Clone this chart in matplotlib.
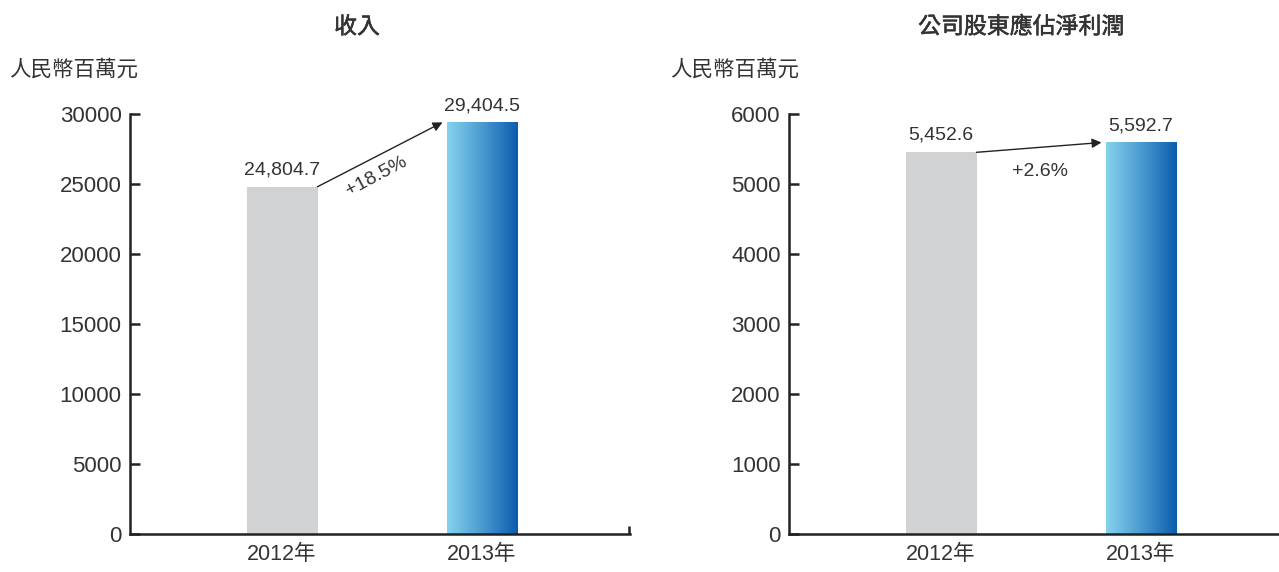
import numpy as np
import matplotlib
matplotlib.use("Agg")
import matplotlib.pyplot as plt
import matplotlib.patheffects as pe

plt.rcParams['font.family'] = ['Liberation Sans', 'Noto Sans CJK TC']

# --- Données ---
annees = ['2012年', '2013年']
revenu = [24804.7, 29404.5]
benefice = [5452.6, 5592.7]
revenu_labels = ['24,804.7', '29,404.5']
benefice_labels = ['5,452.6', '5,592.7']
titres = ['收入', '公司股東應佔淨利潤']
unite = '人民幣百萬元'
croissance = ['+18.5%', '+2.6%']
yticks_revenu = [0, 5000, 10000, 15000, 20000, 25000, 30000]
yticks_benefice = [0, 1000, 2000, 3000, 4000, 5000, 6000]

GRIS = '#d1d2d4'
TEXTE = '#333333'
LARG = 0.355
XLIM = (-0.76, 1.74)

grad_cmap = matplotlib.colors.LinearSegmentedColormap.from_list(
    'bleu', ['#86d3ee', '#4a9ad0', '#0b5cad'])


def panneau(ax, valeurs, labels, yticks, titre, pct, ymax, pct_rot, pct_off):
    x = np.arange(len(valeurs))
    ax.bar(x[0], valeurs[0], width=LARG, color=GRIS, zorder=2)
    # barre en dégradé
    grad = np.linspace(0, 1, 256).reshape(1, -1)
    ax.imshow(grad, cmap=grad_cmap, aspect='auto', zorder=2,
              extent=[x[1] - LARG / 2, x[1] + LARG / 2, 0, valeurs[1]])
    ax.set_xlim(*XLIM)
    ax.set_ylim(0, ymax)

    for xi, v, lab in zip(x, valeurs, labels):
        ax.annotate(lab, (xi, v), xytext=(0, 6), textcoords='offset points',
                    ha='center', va='bottom', fontsize=14, color=TEXTE)

    # flèche de croissance
    ax.annotate('', xy=(x[1] - LARG / 2 - 0.02, valeurs[1]),
                xytext=(x[0] + LARG / 2, valeurs[0]),
                arrowprops=dict(arrowstyle='-|>', color='#222222', lw=1,
                                mutation_scale=14, shrinkA=0, shrinkB=0))
    xm = (x[0] + x[1]) / 2
    ym = (valeurs[0] + valeurs[1]) / 2
    ax.annotate(pct, (xm, ym), xytext=pct_off, textcoords='offset points',
                ha='center', va='center', fontsize=14, color=TEXTE,
                rotation=pct_rot)

    ax.set_xticks(x)
    ax.set_xticklabels(annees, fontsize=15.5, color=TEXTE)
    ax.set_yticks(yticks)
    ax.set_yticklabels([str(t) for t in yticks], fontsize=16, color=TEXTE)
    ax.tick_params(axis='x', which='major', length=0, pad=7)
    ax.tick_params(axis='y', direction='in', length=7, width=1.8,
                   color='#222222', pad=6)
    ax.set_xticks([XLIM[1] - 0.005], minor=True)
    ax.tick_params(axis='x', which='minor', direction='in', length=6,
                   width=1.8, color='#222222')

    for s in ['top', 'right']:
        ax.spines[s].set_visible(False)
    for s in ['left', 'bottom']:
        ax.spines[s].set_linewidth(1.8)
        ax.spines[s].set_color('#222222')


fig = plt.figure(figsize=(12.79, 5.72), dpi=100)
ax1 = fig.add_axes([130 / 1279, 38 / 572, 500 / 1279, 420 / 572])
ax2 = fig.add_axes([789 / 1279, 38 / 572, 500 / 1279, 420 / 572])

panneau(ax1, revenu, revenu_labels, yticks_revenu, titres[0], croissance[0],
        30000, 28, (-4, -16))
panneau(ax2, benefice, benefice_labels, yticks_benefice, titres[1],
        croissance[1], 6000, 0, (-1, -17))

# titres un peu plus épais que le regular
epais = [pe.withStroke(linewidth=0.4, foreground=TEXTE)]
fig.text(357 / 1279, 1 - 27 / 572, titres[0], ha='center', va='center',
         fontsize=16.5, color=TEXTE, path_effects=epais)
fig.text(1021 / 1279, 1 - 27 / 572, titres[1], ha='center', va='center',
         fontsize=16.5, color=TEXTE, path_effects=epais)
fig.text(9 / 1279, 1 - 70 / 572, unite, ha='left', va='center',
         fontsize=15.5, color=TEXTE)
fig.text(670 / 1279, 1 - 70 / 572, unite, ha='left', va='center',
         fontsize=15.5, color=TEXTE)

fig.savefig('out.png', dpi=100, facecolor='white')
